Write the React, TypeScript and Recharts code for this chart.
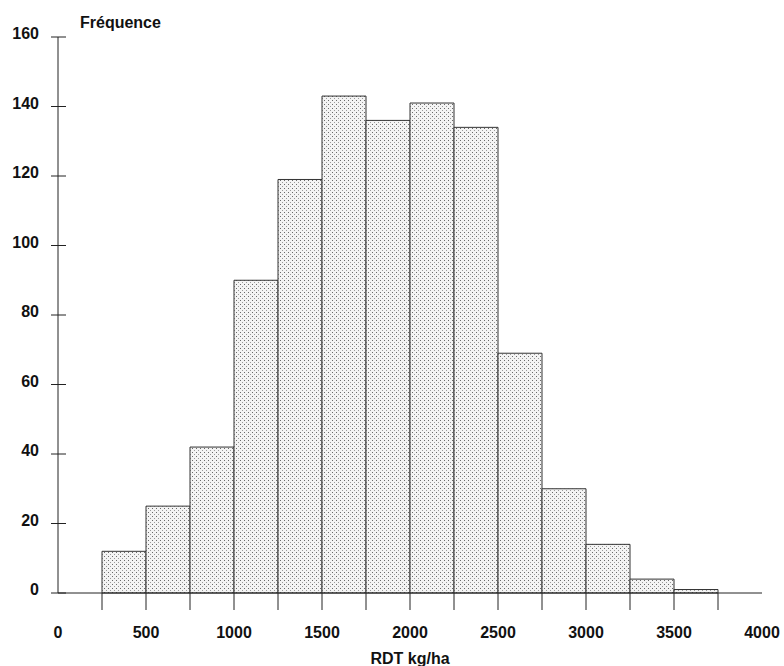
import React from 'react';
import { BarChart, Bar, XAxis, YAxis } from 'recharts';

const binStarts = [0, 250, 500, 750, 1000, 1250, 1500, 1750, 2000, 2250, 2500, 2750, 3000, 3250, 3500, 3750];
const counts = [0, 12, 25, 42, 90, 119, 143, 136, 141, 134, 69, 30, 14, 4, 1, 0];
const xTicks = [0, 250, 500, 750, 1000, 1250, 1500, 1750, 2000, 2250, 2500, 2750, 3000, 3250, 3500, 3750, 4000];
const yTicks = [0, 20, 40, 60, 80, 100, 120, 140, 160];

const data = binStarts.map((s, i) => ({ bin: `${s}-${s + 250}`, start: s, count: counts[i] }));

const FONT = '"Liberation Sans", Arial, sans-serif';

const XTick = (props: any) => {
  const { x, y, payload } = props;
  const v = payload.value as number;
  return (
    <g>
      {v > 0 && v < 4000 && <line x1={x} x2={x} y1={y} y2={y + 17} stroke="#222" strokeWidth={1} />}
      {v % 500 === 0 && (
        <text x={x} y={y + 45} textAnchor="middle" fontFamily={FONT} fontWeight="bold" fontSize={16} fill="#111">
          {v}
        </text>
      )}
    </g>
  );
};

const YTick = (props: any) => {
  const { x, y, payload } = props;
  return (
    <g>
      <line x1={x - 7} x2={x + 8} y1={y} y2={y} stroke="#222" strokeWidth={1} />
      <text x={x - 19} y={y + 2} textAnchor="end" fontFamily={FONT} fontWeight="bold" fontSize={16} fill="#111">
        {payload.value}
      </text>
    </g>
  );
};

export default function App() {
  return (
    <div style={{ position: 'absolute', left: 0, top: 0, background: '#fff' }}>
      <BarChart
        width={784}
        height={666}
        data={data}
        margin={{ top: 37, right: 22, bottom: 0, left: 0 }}
        barCategoryGap={0}
        barGap={0}
      >
        <defs>
          <pattern id="dots" width="4" height="4" patternUnits="userSpaceOnUse">
            <rect x="0" y="0" width="4" height="4" fill="#f4f4f4" />
            <rect x="0" y="0" width="1" height="1" fill="#6a6a6a" />
            <rect x="2" y="2" width="1" height="1" fill="#9a9a9a" />
          </pattern>
        </defs>
        <XAxis xAxisId="cat" dataKey="bin" type="category" hide height={0} orientation="top" padding={{ left: 0, right: 0 }} />
        <XAxis
          xAxisId="num"
          dataKey="start"
          type="number"
          domain={[0, 4000]}
          ticks={xTicks}
          interval={0}
          allowDataOverflow
          height={73}
          tickSize={0}
          tickMargin={0}
          tickLine={false}
          axisLine={{ stroke: '#222', strokeWidth: 1 }}
          tick={<XTick />}
          label={{ value: 'RDT kg/ha', position: 'insideBottom', offset: 2, fontFamily: FONT, fontWeight: 'bold', fontSize: 16, fill: '#111' }}
        />
        <YAxis
          domain={[0, 160]}
          ticks={yTicks}
          interval={0}
          width={58}
          tickSize={0}
          tickMargin={0}
          tickLine={false}
          axisLine={{ stroke: '#222', strokeWidth: 1 }}
          tick={<YTick />}
          label={{
            content: (p: any) => {
              const vb = p.viewBox || { x: 0, y: 37, width: 58 };
              return (
                <text x={vb.x + vb.width + 22} y={vb.y - 9} fontFamily={FONT} fontWeight="bold" fontSize={16} fill="#111">
                  Fréquence
                </text>
              );
            },
          }}
        />
        <Bar xAxisId="cat" dataKey="count" fill="url(#dots)" stroke="#333" strokeWidth={1} isAnimationActive={false} />
      </BarChart>
    </div>
  );
}
